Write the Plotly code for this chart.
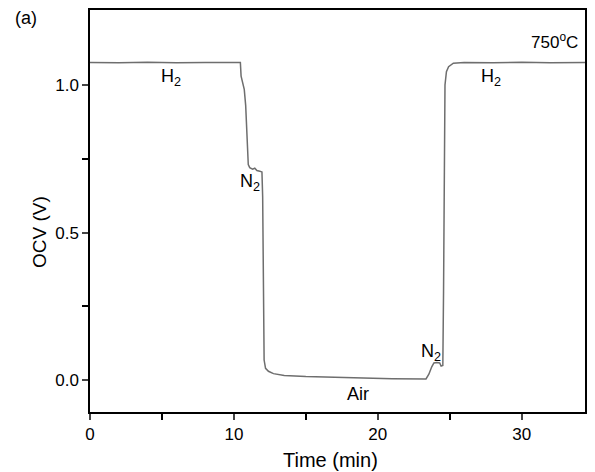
import plotly.graph_objects as go

time_min = [0, 2, 4, 6, 8, 10, 10.45, 10.5, 10.6, 10.72, 10.82, 10.9, 10.95, 11.0,
            11.1, 11.3, 11.45, 11.6, 11.8, 11.95, 12.0, 12.05, 12.1, 12.2, 12.4,
            12.75, 13.5, 15, 17, 19, 21, 23.35, 23.55, 23.75, 23.9, 24.1, 24.3,
            24.4, 24.52, 24.57, 24.62, 24.67, 24.77, 24.92, 25.25, 26, 28, 30, 32, 34.4]
ocv_v = [1.076, 1.075, 1.077, 1.075, 1.076, 1.075, 1.076, 1.03, 1.012, 0.985, 0.93, 0.85, 0.78, 0.73,
         0.72, 0.715, 0.718, 0.71, 0.708, 0.705, 0.62, 0.3, 0.068, 0.04, 0.03,
         0.022, 0.016, 0.012, 0.009, 0.007, 0.005, 0.004, 0.02, 0.045, 0.058, 0.06, 0.058,
         0.048, 0.05, 0.3, 0.7, 1.0, 1.045, 1.062, 1.074, 1.076, 1.075, 1.077, 1.075, 1.076]

labels = ["H<sub>2</sub>", "N<sub>2</sub>", "Air", "N<sub>2</sub>", "H<sub>2</sub>"]
label_t = [5.6, 11.1, 18.65, 23.7, 27.9]
label_v = [1.024, 0.671, -0.047, 0.095, 1.024]

x_title = "Time (min)"
y_title = "OCV (V)"

FONT = "Liberation Sans, Arial, sans-serif"

fig = go.Figure()
fig.add_trace(go.Scatter(x=time_min, y=ocv_v, mode="lines",
                         line=dict(color="#6e6e6e", width=1.5), showlegend=False))

for txt, t, v in zip(labels, label_t, label_v):
    fig.add_annotation(x=t, y=v, text=txt, showarrow=False,
                       font=dict(family=FONT, size=18, color="black"))

fig.add_annotation(xref="paper", yref="paper", x=0.99, y=0.955, xanchor="right",
                   text="750<sup>o</sup>C", showarrow=False,
                   font=dict(family=FONT, size=17, color="black"))
fig.add_annotation(xref="paper", yref="paper", x=-0.155, y=0.98, xanchor="left",
                   yanchor="middle", text="(a)", showarrow=False,
                   font=dict(family=FONT, size=18, color="black"))
fig.add_annotation(xref="paper", yref="paper", x=0.485, y=-0.119, xanchor="center",
                   yanchor="middle", text=x_title, showarrow=False,
                   font=dict(family=FONT, size=20, color="black"))
fig.add_annotation(xref="paper", yref="paper", x=-0.101, y=0.448, xanchor="center",
                   yanchor="middle", text=y_title, textangle=-90, showarrow=False,
                   font=dict(family=FONT, size=19, color="black"))

# page body has an 8px margin; compensate so plot sits where the reference does
fig.update_layout(
    width=587, height=464,
    margin=dict(l=82, r=10, t=2, b=60),
    paper_bgcolor="white", plot_bgcolor="white",
    font=dict(family=FONT, size=17, color="black"),
    xaxis=dict(range=[0, 34.4], tickvals=[0, 10, 20, 30], ticks="outside", ticklen=6,
               tickwidth=1.5, showline=True, linewidth=1.5, linecolor="black", mirror=True,
               showgrid=False, zeroline=False, automargin=False,
               tickfont=dict(size=17),
               minor=dict(tickvals=[5, 15, 25], ticks="outside", ticklen=6, tickwidth=1.5,
                          tickcolor="black", showgrid=False)),
    yaxis=dict(range=[-0.108, 1.254], tickvals=[0, 0.5, 1.0], tickformat=".1f",
               ticks="outside", ticklen=6, tickwidth=1.5,
               showline=True, linewidth=1.5, linecolor="black", mirror=True,
               showgrid=False, zeroline=False, automargin=False,
               tickfont=dict(size=17),
               minor=dict(tickvals=[0.25, 0.75], ticks="outside", ticklen=6, tickwidth=1.5,
                          tickcolor="black", showgrid=False)),
)

fig.write_html("out.html")
